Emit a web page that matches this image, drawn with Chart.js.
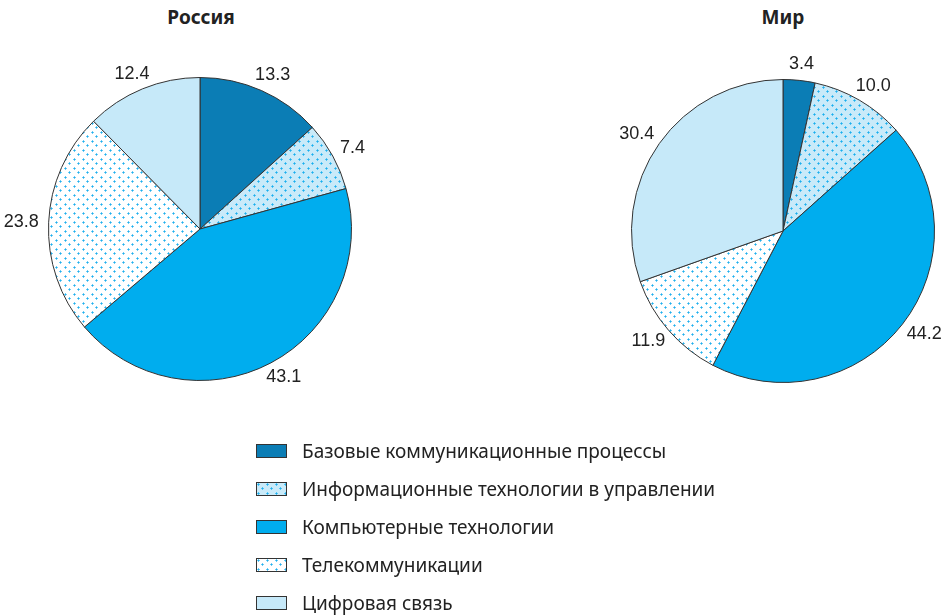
<!DOCTYPE html>
<html><head><meta charset="utf-8">
<script src="https://cdn.jsdelivr.net/npm/chart.js@4"></script>
<style>
html,body{margin:0;padding:0;background:#fff;width:943px;height:615px;overflow:hidden;position:relative;font-family:"Noto Sans",sans-serif;}
.box{position:absolute;}
.title{position:absolute;top:4px;font-weight:bold;font-size:19px;color:#222;transform:translateX(-50%);white-space:nowrap;}
#legend{position:absolute;left:256px;top:432px;}
.li{position:relative;height:38px;display:flex;align-items:center;font-size:19px;color:#222;white-space:nowrap;}
.li canvas{display:block;margin-right:15px;}
</style></head>
<body>
<div class="title" style="left:201px">Россия</div>
<div class="title" style="left:783px">Мир</div>
<div class="box" style="left:0;top:40px;width:400px;height:380px"><canvas id="c1" width="400" height="380"></canvas></div>
<div class="box" style="left:560px;top:40px;width:383px;height:380px"><canvas id="c2" width="383" height="380"></canvas></div>
<div id="legend"></div>
<script>
const categories = ["Базовые коммуникационные процессы","Информационные технологии в управлении","Компьютерные технологии","Телекоммуникации","Цифровая связь"];
const russiaValues = [13.3, 7.4, 43.1, 23.8, 12.4];
const worldValues = [3.4, 10.0, 44.2, 11.9, 30.4];
const chartTitles = ["Россия", "Мир"];

function makePattern(bg, dot, light){
  const c = document.createElement('canvas');
  c.width = 9; c.height = 9;
  const x = c.getContext('2d');
  x.fillStyle = bg; x.fillRect(0,0,9,9);
  [[2,2],[6,6]].forEach(([a,b])=>{
    x.fillStyle = light;
    x.fillRect(a,b-1,1,3);
    x.fillRect(a-1,b,3,1);
    x.fillStyle = dot;
    x.fillRect(a,b,1,1);
  });
  return x.createPattern(c,'repeat');
}
const colors = ['#0b7db5', makePattern('#c9eaf9','#1aaeee','#52c2f2'), '#00adee', makePattern('#ffffff','#1fb0ee','#6ccaf3'), '#c6e9f9'];

const labelPlugin = {
  id:'outLabels',
  afterDatasetsDraw(chart){
    const ctx = chart.ctx;
    const meta = chart.getDatasetMeta(0);
    const vals = chart.data.datasets[0].data;
    ctx.save();
    ctx.font = '18px "Liberation Sans", Arial, sans-serif';
    ctx.fillStyle = '#222';
    ctx.textAlign = 'center';
    ctx.textBaseline = 'middle';
    meta.data.forEach((arc,i)=>{
      const txt = vals[i].toFixed(1);
      const w = ctx.measureText(txt).width, h = 13;
      const mid = (arc.startAngle + arc.endAngle)/2;
      const r = arc.outerRadius + 10;
      const cx = arc.x + r*Math.cos(mid) + (w/2)*Math.cos(mid);
      const cy = arc.y + r*Math.sin(mid) + (h/2)*Math.sin(mid);
      ctx.fillText(txt, cx, cy);
    });
    ctx.restore();
  }
};

function makePie(id, values, pad){
  new Chart(document.getElementById(id), {
    type:'pie',
    data:{labels:categories, datasets:[{data:values, backgroundColor:colors, borderColor:'#333', borderWidth:1}]},
    options:{
      responsive:false, animation:false,
      layout:{padding:pad},
      plugins:{legend:{display:false}, tooltip:{enabled:false}}
    },
    plugins:[labelPlugin]
  });
}
makePie('c1', russiaValues, {left:48,right:48,top:37,bottom:39});
makePie('c2', worldValues, {left:71,right:8,top:39,bottom:37});

const legend = document.getElementById('legend');
categories.forEach((name,i)=>{
  const row = document.createElement('div'); row.className='li';
  const sw = document.createElement('canvas'); sw.width=31; sw.height=14;
  const sx = sw.getContext('2d');
  sx.fillStyle = colors[i]; sx.fillRect(0,0,31,14);
  sx.strokeStyle='#333'; sx.lineWidth=1; sx.strokeRect(0.5,0.5,30,13);
  row.appendChild(sw);
  const t = document.createElement('span'); t.textContent = name;
  row.appendChild(t);
  legend.appendChild(row);
});
</script>
</body></html>
